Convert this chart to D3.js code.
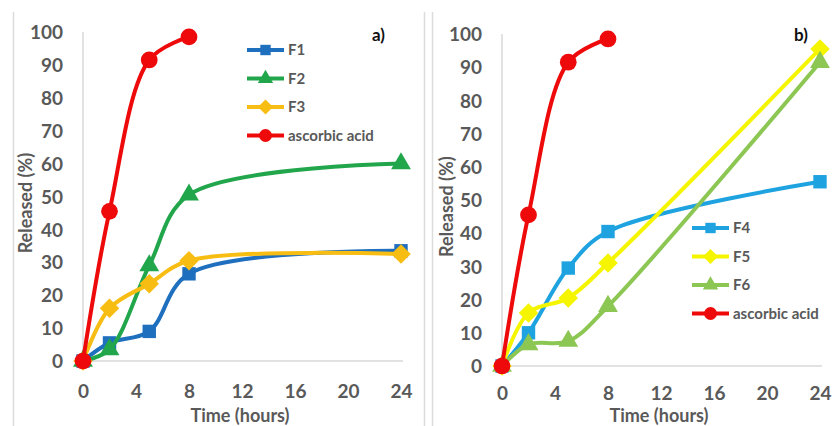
<!DOCTYPE html>
<meta charset="utf-8">
<body style="margin:0;background:#fff">
<div id="chart"></div>
<style>
  text { font-family: Lato, 'Open Sans', sans-serif; fill: #595959; }
  .tick text { font-size: 19px; font-weight: 700; }
  .title { font-size: 18px; font-weight: 700; }
  .leg { font-size: 15px; font-weight: 700; }
  .tag { font-size: 17px; font-weight: 700; fill: #111; }
</style>
<script src="https://d3js.org/d3.v7.min.js"></script>
<script>
const width = 832, height = 426;

// data
const hours = [0, 2, 5, 8, 24];
const acidHours = [0, 2, 5, 8];
const acid = [0, 45.5, 91.5, 98.5];
const f1 = [0, 5.5, 9, 26.5, 33.5];
const f2 = [0, 3.5, 29, 50.5, 60];
const f3 = [0, 16, 23.5, 30.5, 32.5];
const f4 = [0, 10, 29.5, 40.5, 55.5];
const f5 = [0, 16, 20.5, 31, 95.5];
const f6 = [0, 6.5, 7.5, 18, 91.5];
const xTicks = [0, 4, 8, 12, 16, 20, 24];
const yTicks = [0, 10, 20, 30, 40, 50, 60, 70, 80, 90, 100];

const svg = d3.select('#chart').append('svg')
  .attr('width', width)
  .attr('height', height);

// light frame lines between panels
[13.5, 424.5, 432.5].forEach(function(x) {
  svg.append('line').attr('x1', x).attr('x2', x).attr('y1', 12).attr('y2', height)
    .attr('stroke', '#dcdcdc').attr('stroke-width', 1.5);
});

const diamond = { draw: function(ctx, size) {
  const r = Math.sqrt(size / 2);
  ctx.moveTo(0, -r); ctx.lineTo(r, 0); ctx.lineTo(0, r); ctx.lineTo(-r, 0); ctx.closePath();
}};

const shapes = {
  square: [d3.symbolSquare, 180],
  triangle: [d3.symbolTriangle, 170],
  diamond: [diamond, 190],
  circle: [d3.symbolCircle, 220]
};

function drawPanel(p) {
  const x = d3.scaleLinear().domain([0, 24]).range([p.x0, p.x1]);
  const y = d3.scaleLinear().domain([0, 100]).range([p.y0, p.y1]);
  const g = svg.append('g');

  // axis lines
  g.append('line').attr('x1', x(0)).attr('x2', x(24) + 2).attr('y1', y(0)).attr('y2', y(0))
    .attr('stroke', '#d9d9d9').attr('stroke-width', 1.5);
  g.append('line').attr('x1', x(0)).attr('x2', x(0)).attr('y1', y(0)).attr('y2', y(100))
    .attr('stroke', '#d9d9d9').attr('stroke-width', 1.5);

  const yAxis = g.append('g').attr('transform', 'translate(' + (x(0) - 20) + ',0)')
    .call(d3.axisLeft(y).tickValues(yTicks).tickSize(0).tickPadding(0));
  yAxis.select('.domain').remove();
  yAxis.selectAll('text').attr('dy', '0.35em');

  const xAxis = g.append('g').attr('transform', 'translate(0,' + (y(0) + p.xtOff) + ')')
    .call(d3.axisBottom(x).tickValues(xTicks).tickSize(0).tickPadding(0));
  xAxis.select('.domain').remove();
  xAxis.selectAll('text').attr('dy', '0.35em');

  g.append('text').attr('class', 'title').attr('text-anchor', 'middle')
    .attr('x', (x(0) + x(24)) / 2 - 2).attr('y', 422).text('Time (hours)');
  g.append('text').attr('class', 'title').attr('text-anchor', 'middle')
    .attr('transform', 'translate(' + p.ylx + ',' + y(48) + ') rotate(-90)').text('Released (%)');

  g.append('text').attr('class', 'tag').attr('x', p.tagX).attr('y', 41).text(p.tag);

  p.series.forEach(function(s) {
    const pts = s.xs.map(function(h, i) { return [x(h), y(s.ys[i])]; });
    g.append('path').attr('d', d3.line().curve(d3.curveCatmullRom.alpha(0.5))(pts))
      .attr('fill', 'none').attr('stroke', s.color).attr('stroke-width', 4);
    const sh = shapes[s.shape];
    g.selectAll(null).data(pts).enter().append('path')
      .attr('transform', function(d) { return 'translate(' + d[0] + ',' + d[1] + ')'; })
      .attr('d', d3.symbol().type(sh[0]).size(sh[1]))
      .attr('fill', s.color);
  });

  // legend
  p.series.forEach(function(s, i) {
    const ly = p.legY + i * 28.5;
    g.append('line').attr('x1', p.legX).attr('x2', p.legX + 37).attr('y1', ly).attr('y2', ly)
      .attr('stroke', s.color).attr('stroke-width', 4);
    const sh = shapes[s.shape];
    g.append('path').attr('transform', 'translate(' + (p.legX + 18.5) + ',' + ly + ')')
      .attr('d', d3.symbol().type(sh[0]).size(sh[1] * 0.6)).attr('fill', s.color);
    g.append('text').attr('class', 'leg').attr('x', p.legX + 41).attr('y', ly).attr('dy', '0.35em').text(s.name);
  });
}

drawPanel({
  x0: 83, x1: 401, y0: 361, y1: 32, ylx: 32, xtOff: 30, tag: 'a)', tagX: 372, legX: 247, legY: 50,
  series: [
    { name: 'F1', xs: hours, ys: f1, color: '#1f6fbf', shape: 'square' },
    { name: 'F2', xs: hours, ys: f2, color: '#22a64c', shape: 'triangle' },
    { name: 'F3', xs: hours, ys: f3, color: '#f7bd12', shape: 'diamond' },
    { name: 'ascorbic acid', xs: acidHours, ys: acid, color: '#ee0a0a', shape: 'circle' }
  ]
});

drawPanel({
  x0: 502, x1: 820, y0: 366, y1: 34, ylx: 453, xtOff: 27, tag: 'b)', tagX: 794, legX: 692, legY: 228,
  series: [
    { name: 'F4', xs: hours, ys: f4, color: '#1ea3e0', shape: 'square' },
    { name: 'F5', xs: hours, ys: f5, color: '#f5f500', shape: 'diamond' },
    { name: 'F6', xs: hours, ys: f6, color: '#8cc653', shape: 'triangle' },
    { name: 'ascorbic acid', xs: acidHours, ys: acid, color: '#ee0a0a', shape: 'circle' }
  ]
});
</script>
</body>
